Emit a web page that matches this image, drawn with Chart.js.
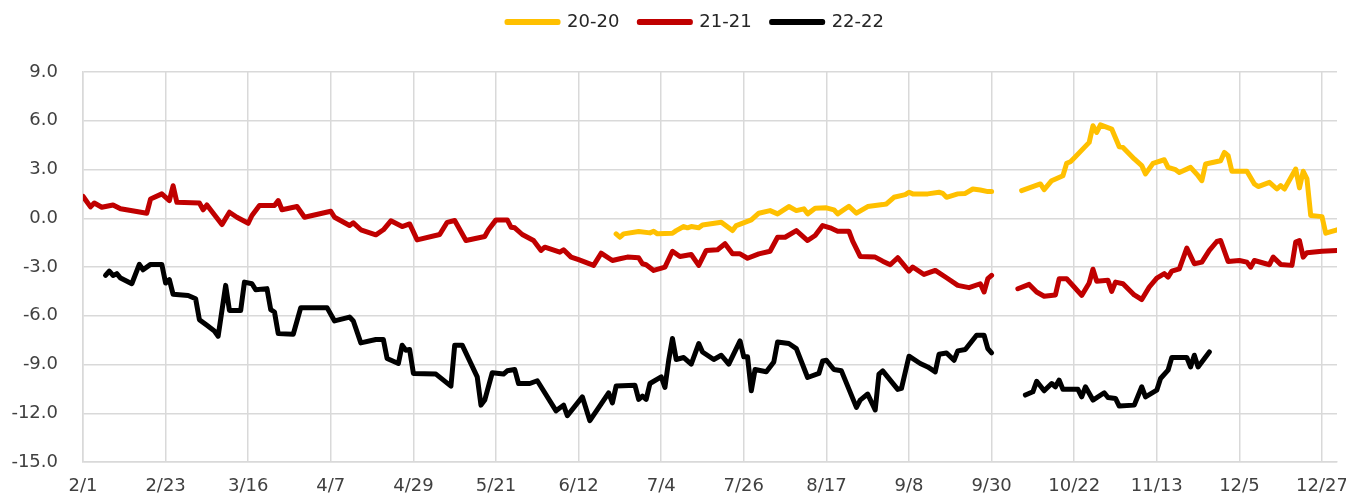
<!DOCTYPE html>
<html>
<head>
<meta charset="utf-8">
<script src="https://cdn.jsdelivr.net/npm/chart.js@4.4.1/dist/chart.umd.min.js"></script>
<style>
  html, body { margin: 0; padding: 0; background: #fff; }
  #wrap { width: 1346px; height: 497px; }
</style>
</head>
<body>
<div id="wrap"><canvas id="myChart"></canvas></div>
<script>
// x = days since 2/1 (leap-year calendar, 2/1 .. 12/31), null = holiday gap
const seriesNames = ['20-20', '21-21', '22-22'];
const seriesColors = ['#FFC000', '#C00000', '#000000'];

const days20 = [142,143,144,148,151,152,153,157,158,160,161,162,164,165,170,173,174,178,180,183,
  185,188,190,192,193,195,198,200,201,204,206,209,213,214,216,219,220,221,225,228,
  229,230,233,235,237,239,241,242,245,250,255,256,258,261,262,263,264,268,269,270,
  271,274,276,277,280,282,283,285,288,289,291,292,295,297,298,299,303,304,305,306,
  310,312,313,316,318,319,320,323,324,325,326,327,330,331,334];
const vals20 = [-0.96,-1.17,-0.96,-0.82,-0.9,-0.8,-0.96,-0.92,-0.76,-0.51,-0.59,-0.51,-0.59,-0.41,-0.25,-0.76,-0.45,-0.1,0.31,0.47,
  0.27,0.72,0.47,0.58,0.27,0.61,0.64,0.52,0.27,0.74,0.31,0.72,0.84,0.88,1.29,1.45,1.6,1.5,1.5,1.6,
  1.53,1.29,1.5,1.53,1.8,1.74,1.64,1.64,null,1.7,2.11,1.76,2.31,2.62,3.38,3.48,3.71,4.67,5.69,5.28,
  5.75,5.49,4.4,4.36,3.65,3.24,2.73,3.38,3.6,3.13,2.99,2.82,3.13,2.62,2.31,3.34,3.54,4.05,3.85,2.89,
  2.89,2.11,1.95,2.21,1.8,2.01,1.8,3.03,1.87,2.89,2.42,0.17,0.1,-0.92,-0.71];

const days21 = [0,2,3,5,8,10,17,18,21,23,24,25,31,32,33,37,39,41,44,45,
  47,51,52,53,57,59,66,67,71,72,74,78,80,82,85,87,89,95,97,99,
  102,107,108,110,113,114,115,117,120,122,123,127,128,130,132,136,138,141,143,145,
  148,149,150,152,155,157,159,162,164,166,169,171,173,175,177,180,183,185,187,190,
  193,195,197,199,201,204,205,207,211,213,215,217,220,221,224,227,230,233,236,239,
  240,241,242,245,249,252,254,256,259,260,262,264,266,268,269,270,273,274,275,277,
  280,282,284,286,288,289,290,292,294,296,298,300,302,303,305,308,310,311,312,316,
  317,319,322,323,324,325,326,330,334];
const vals21 = [1.35,0.7,0.94,0.68,0.82,0.58,0.31,1.19,1.5,1.09,2.0,0.98,0.94,0.52,0.82,-0.39,0.37,0.06,-0.31,0.17,
  0.78,0.78,1.09,0.52,0.72,0.06,0.43,0.06,-0.45,-0.28,-0.71,-1.02,-0.71,-0.16,-0.51,-0.35,-1.33,-1.0,-0.25,-0.14,
  -1.37,-1.12,-0.71,-0.1,-0.1,-0.55,-0.59,-1.0,-1.37,-1.98,-1.78,-2.09,-1.94,-2.39,-2.55,-2.9,-2.15,-2.6,-2.49,-2.39,
  -2.43,-2.8,-2.86,-3.21,-3.01,-2.03,-2.35,-2.23,-2.9,-1.98,-1.94,-1.57,-2.19,-2.19,-2.46,-2.19,-2.03,-1.17,-1.17,-0.76,
  -1.37,-1.06,-0.45,-0.59,-0.8,-0.8,-1.41,-2.35,-2.39,-2.64,-2.86,-2.43,-3.25,-3.0,-3.46,-3.21,-3.66,-4.13,-4.27,-4.03,
  -4.54,-3.72,-3.52,null,-4.34,-4.07,-4.54,-4.8,-4.72,-3.72,-3.72,-4.23,-4.75,-3.98,-3.14,-3.87,-3.82,-4.5,-3.93,-4.03,
  -4.72,-5.0,-4.23,-3.68,-3.41,-3.62,-3.25,-3.11,-1.84,-2.8,-2.7,-1.98,-1.43,-1.37,-2.66,-2.6,-2.7,-3.01,-2.6,-2.86,
  -2.39,-2.84,-2.9,-1.47,-1.37,-2.39,-2.12,-2.03,-1.98];

const days22 = [6,7,8,9,10,13,15,16,18,21,22,23,24,28,30,31,33,35,36,38,
  39,42,43,45,46,49,50,51,52,56,58,65,67,71,72,74,78,80,81,84,
  85,86,87,88,94,98,99,101,105,106,107,109,112,113,115,116,119,121,126,128,
  129,133,135,140,141,142,147,148,149,150,151,154,155,156,157,158,160,162,164,165,
  168,170,172,175,176,177,178,179,182,184,185,188,190,193,196,197,198,200,202,206,
  207,209,211,212,213,217,218,220,223,225,227,228,230,232,233,235,238,240,241,242,
  245,251,253,254,256,258,259,260,261,265,266,267,269,272,273,275,276,280,282,283,
  286,287,289,290,294,295,296,297,300];
const vals22 = [-3.52,-3.25,-3.52,-3.41,-3.68,-4.03,-2.84,-3.17,-2.84,-2.84,-3.99,-3.78,-4.68,-4.75,-4.95,-6.24,-6.59,-6.94,-7.26,-4.13,
  -5.67,-5.67,-3.93,-4.03,-4.4,-4.33,-5.62,-5.77,-7.1,-7.14,-5.5,-5.5,-6.32,-6.08,-6.32,-7.67,-7.46,-7.46,-8.63,-8.94,
  -7.81,-8.12,-8.08,-9.55,-9.59,-10.33,-7.81,-7.81,-9.76,-11.5,-11.19,-9.51,-9.59,-9.39,-9.31,-10.17,-10.17,-10.0,-11.85,-11.5,
  -12.15,-10.99,-12.46,-10.74,-11.36,-10.33,-10.27,-11.15,-10.94,-11.15,-10.17,-9.76,-10.41,-8.74,-7.4,-8.69,-8.57,-8.98,-7.71,-8.23,
  -8.69,-8.43,-8.98,-7.55,-8.53,-8.53,-10.62,-9.31,-9.45,-8.84,-7.61,-7.71,-8.02,-9.8,-9.55,-8.78,-8.74,-9.31,-9.39,-11.64,
  -11.19,-10.82,-11.8,-9.59,-9.39,-10.53,-10.47,-8.49,-8.94,-9.15,-9.45,-8.37,-8.29,-8.74,-8.16,-8.08,-7.2,-7.2,-8.02,-8.29,
  null,-10.88,-10.68,-10.03,-10.62,-10.17,-10.37,-9.96,-10.53,-10.53,-10.99,-10.37,-11.19,-10.74,-11.03,-11.09,-11.56,-11.5,-10.37,-10.99,
  -10.58,-9.86,-9.35,-8.57,-8.57,-9.15,-8.43,-9.15,-8.23];

const lastDay = 334;      // 12/31
const tickEvery = 22;     // 2/1, 2/23, 3/16 ...
const yTicks = { min: -15, max: 9, step: 3 };

function dayLabel(d) {
  const dt = new Date(2020, 1, 1 + d);
  return (dt.getMonth() + 1) + '/' + dt.getDate();
}

function toPoints(days, vals) {
  return days.map((d, i) => ({ x: d, y: vals[i] }));
}

Chart.defaults.font.family = "'DejaVu Sans', sans-serif";
Chart.defaults.font.size = 18;
Chart.defaults.color = '#404040';

const gridColor = '#d9d9d9';

// legend in the original sits higher and a bit right of centre
const moveLegend = {
  id: 'moveLegend',
  afterLayout(chart) {
    chart.legend.left += 54;
    chart.legend.top -= 31;
  }
};

const allDays = [days20, days21, days22];
const allVals = [vals20, vals21, vals22];

new Chart(document.getElementById('myChart'), {
  type: 'line',
  data: {
    datasets: seriesNames.map((name, i) => ({
      label: name,
      data: toPoints(allDays[i], allVals[i]),
      borderColor: seriesColors[i],
      backgroundColor: seriesColors[i],
      borderWidth: 5,
      borderJoinStyle: 'round',
      borderCapStyle: 'round',
      pointRadius: 0,
      tension: 0,
      spanGaps: false
    }))
  },
  options: {
    responsive: true,
    maintainAspectRatio: false,
    animation: false,
    layout: { padding: { left: 0, right: 9, top: 24, bottom: 0 } },
    plugins: {
      legend: {
        position: 'top',
        labels: {
          boxWidth: 51,
          boxHeight: 1,
          padding: 20,
          color: '#262626',
          font: { size: 18 }
        }
      },
      tooltip: { enabled: false }
    },
    scales: {
      x: {
        type: 'linear',
        min: 0,
        max: lastDay,
        grid: { color: gridColor, lineWidth: 1.5, drawTicks: false },
        border: { color: gridColor, width: 1.5 },
        afterFit(scale) {
          scale.height = 35;
          scale.paddingLeft = 0;
          scale.paddingRight = 0;
        },
        ticks: {
          stepSize: tickEvery,
          autoSkip: false,
          includeBounds: false,
          maxRotation: 0,
          padding: 14,
          callback: v => dayLabel(v)
        }
      },
      y: {
        min: yTicks.min,
        max: yTicks.max,
        grid: { color: gridColor, lineWidth: 1.5, drawTicks: false },
        border: { color: gridColor, width: 1.5 },
        afterFit(scale) {
          scale.width = 83;
          scale.paddingTop = 0;
          scale.paddingBottom = 0;
        },
        ticks: {
          stepSize: yTicks.step,
          padding: 25,
          callback: v => v.toFixed(1)
        }
      }
    }
  },
  plugins: [moveLegend]
});
</script>
</body>
</html>
